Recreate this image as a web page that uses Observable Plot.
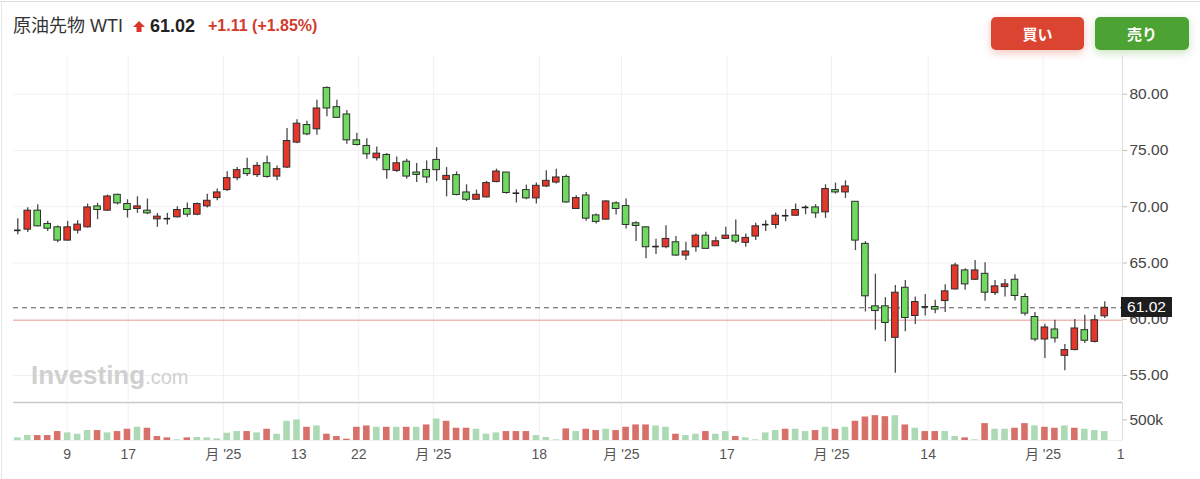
<!DOCTYPE html>
<html>
<head>
<meta charset="utf-8">
<script src="https://cdn.jsdelivr.net/npm/d3@7"></script>
<script src="https://cdn.jsdelivr.net/npm/@observablehq/plot@0.6"></script>
<style>
  html, body { margin: 0; padding: 0; background: #fff; }
  #root { position: relative; width: 1200px; height: 479px; overflow: hidden; background: #fff;
          font-family: "Liberation Sans", Arial, "Noto Sans CJK JP", sans-serif; }
  #root .border-top { position: absolute; left: 0; top: 1px; width: 1200px; height: 1px; background: #dcdcdc; }
  #root .border-left { position: absolute; left: 1px; top: 1px; width: 1px; height: 479px; background: #e6e6e6; }
  .abs { position: absolute; white-space: nowrap; }
  .btn { position: absolute; top: 17px; height: 33px; border-radius: 5px; color: #fff; font-weight: bold;
         font-size: 15px; display: flex; align-items: center; justify-content: center;
         font-family: "Noto Sans CJK JP", sans-serif; }
  #price, #volume { position: absolute; left: 0; }
  #price { top: 55px; }
  #volume { top: 400px; }
  #lastbox { position: absolute; left: 1121px; width: 51px; height: 20px; background: #1e1e1e; color: #fff;
             font-size: 15.5px; display: flex; align-items: center; justify-content: center; }
</style>
</head>
<body>
<div id="root">
  <div class="border-top"></div>
  <div class="border-left"></div>
  <div class="abs" id="title" style="left:13px; top:17px; font-size:18px; color:#333; line-height:18px;"></div>
  <svg class="abs" style="left:133px; top:21px;" width="12" height="11" viewBox="0 0 12 11">
    <polygon points="6,0 12,6 8.5,6 8.5,11 3.5,11 3.5,6 0,6" fill="#d9332a"/>
  </svg>
  <div class="abs" id="last" style="left:150px; top:17px; font-size:18px; font-weight:bold; color:#222; line-height:18px;"></div>
  <div class="abs" id="chg" style="left:208px; top:18px; font-size:16px; font-weight:bold; color:#d23b2d; line-height:16px;"></div>
  <div class="btn" style="left:991px; width:93px; background:#da4431; box-shadow:0 3px 8px rgba(218,68,49,0.3);">買い</div>
  <div class="btn" style="left:1095px; width:94px; background:#4ca334; box-shadow:0 3px 8px rgba(76,163,52,0.3);">売り</div>
  <div id="price"></div>
  <div id="volume"></div>
  <div class="abs" style="left:31px; top:360px; color:#d0d0d0; line-height:30px;">
    <span style="font-size:26px; font-weight:bold;">Investing</span><span style="font-size:20px;">.com</span>
  </div>
  <div id="lastbox"></div>
</div>
<script>
// ---- data ----
const instrument = "原油先物 WTI";
const changeText = "+1.11 (+1.85%)";

const open = [67.90,67.96,69.65,68.47,68.17,66.99,67.88,68.17,70.03,69.65,
  71.06,70.24,69.80,69.65,68.88,68.94,69.06,69.80,69.29,70.03,
  70.77,71.48,72.54,73.34,72.81,73.86,72.68,73.48,75.70,77.26,
  76.88,80.56,78.85,78.20,75.90,75.40,74.31,74.60,73.19,74.00,
  73.04,73.27,74.16,72.39,72.81,71.27,70.62,70.83,72.19,73.04,
  71.20,71.48,70.74,71.80,72.15,72.65,69.80,71.00,69.23,68.85,
  70.30,70.06,68.53,68.17,66.46,66.40,66.84,65.66,66.40,67.43,
  66.49,67.14,67.43,66.79,67.35,68.41,68.38,69.20,69.20,69.94,
  69.94,69.50,71.48,71.27,70.44,66.70,61.15,61.15,58.35,62.80,
  60.29,61.10,61.09,61.62,62.65,64.34,63.51,64.04,62.33,62.86,
  63.51,61.98,60.20,58.20,59.09,56.75,57.26,59.03,57.99,60.26];
const high = [68.94,69.91,70.18,68.70,68.29,68.70,68.76,70.24,70.30,71.04,
  71.12,70.62,70.88,70.68,69.41,69.41,70.00,70.33,70.33,71.12,
  71.57,73.12,73.48,74.31,73.92,74.49,73.63,76.96,77.73,77.60,
  79.47,80.65,79.47,78.56,76.52,76.04,75.31,74.72,74.42,74.22,
  73.84,74.07,75.25,73.48,73.10,71.95,71.48,72.24,73.34,73.04,
  71.50,71.92,72.10,73.19,73.34,72.83,70.97,71.27,69.35,70.53,
  70.44,70.68,68.67,68.23,67.10,68.32,67.35,66.84,67.58,67.73,
  67.29,68.17,68.82,67.58,68.53,68.76,69.44,69.73,70.24,70.09,
  70.18,71.95,72.10,72.30,70.44,66.90,64.00,61.92,63.01,63.45,
  61.98,62.21,61.68,63.07,64.98,64.48,65.22,65.02,63.45,63.54,
  63.95,62.27,60.59,59.56,59.91,57.76,59.97,60.35,60.35,61.56];
const low = [67.52,67.70,68.20,67.81,66.79,66.95,67.58,68.10,68.85,69.59,
  70.15,69.00,69.41,69.29,68.17,68.38,69.00,69.06,69.20,69.88,
  70.53,71.36,72.30,72.68,72.60,72.54,72.30,73.40,75.60,76.30,
  76.35,77.99,77.85,75.55,75.40,74.22,74.07,72.45,73.04,72.45,
  72.15,72.06,72.25,70.88,70.97,70.47,70.60,70.77,72.13,71.12,
  70.33,70.62,70.24,71.71,72.01,70.30,69.80,68.70,68.47,68.85,
  69.27,68.03,66.90,65.37,65.75,66.26,65.60,65.22,65.96,66.20,
  66.46,67.08,66.70,66.40,67.00,67.81,68.03,68.67,69.15,69.29,
  68.97,68.97,71.12,70.74,66.10,60.65,59.03,57.99,55.20,58.88,
  59.53,60.29,60.50,60.59,62.60,62.57,63.45,61.59,62.12,61.98,
  61.62,60.29,57.99,56.52,57.90,55.42,57.20,57.85,57.90,60.06];
const close = [67.90,69.65,68.26,68.05,66.99,68.17,68.41,69.94,69.71,70.91,
  70.30,69.71,70.03,69.41,69.12,68.94,69.71,69.29,70.24,70.53,
  71.27,72.54,73.25,72.90,73.63,72.65,73.34,75.84,77.38,76.43,
  78.73,78.73,77.90,75.90,75.49,74.66,74.72,73.25,73.86,72.68,
  72.83,72.60,73.25,72.74,71.04,70.62,71.06,72.10,73.13,71.22,
  71.20,70.74,71.86,72.30,72.60,70.38,70.77,68.94,68.65,70.47,
  69.80,68.38,68.29,66.40,66.46,67.14,65.66,66.02,67.43,66.26,
  66.93,67.43,66.90,67.23,68.26,68.41,69.20,69.20,69.71,69.94,
  69.41,71.57,71.27,71.80,66.99,62.04,60.73,59.67,62.36,60.11,
  61.53,61.10,60.86,62.48,64.78,63.10,64.34,62.36,62.92,63.10,
  62.07,60.50,58.20,59.27,58.30,57.26,59.18,58.09,59.91,61.02];
// volume in thousands of contracts
const volume = [64,120,120,120,216,184,152,240,240,184,
  216,272,320,296,96,64,16,64,72,64,
  40,176,216,216,184,272,152,464,496,320,
  352,152,96,32,320,352,320,320,320,320,
  320,376,520,464,296,296,272,152,184,216,
  216,216,120,72,16,280,216,272,240,272,
  240,320,376,376,352,320,152,120,152,216,
  152,216,96,64,16,184,240,272,272,216,
  240,320,272,320,464,568,600,576,600,376,
  296,216,216,216,96,64,16,408,272,272,
  296,408,352,320,296,352,296,272,240,216];
const volumeColor = ("ggrrrgggrgrrgrrrgrgggggrgrgggrgrrrrrgrgrgrgrrrgggrrrggg" +
                     "rgrrgrrrrggrggrggrggggrggrgrgrrrrgrgrrggrgrggrrgrrgrggg").split("");
const priceTicks = [55, 60, 65, 70, 75, 80];
const volumeTicks = [500];
const xTickPos = [5.95, 12.07, 21.61, 29.17, 35.19, 42.67, 53.30, 61.53, 72.13, 82.60, 92.29, 103.81, 111.6];
const xTickLabels = ["9", "17", "月 '25", "13", "22", "月 '25", "18", "月 '25", "17", "月 '25", "14", "月 '25", "1"];

// ---- derived tables ----
const candles = open.map((o, k) => ({
  i: k + 1, open: o, high: high[k], low: low[k], close: close[k], up: close[k] >= o
}));
const doji = candles.filter(d => Math.abs(d.close - d.open) < 0.03);
const vols = volume.map((v, k) => ({i: k + 1, v, c: volumeColor[k]}));
const xTicks = xTickPos.map((p, k) => ({pos: p, label: xTickLabels[k]}));
const lastClose = close[close.length - 1];
const prevClose = close[close.length - 2];

const xDomain = [0.57, 111.78];
const half = 0.33;
const gridColor = "#f0f0f0";
const axisFont = "15.5px";

document.getElementById("title").textContent = instrument;
document.getElementById("last").textContent = lastClose.toFixed(2);
document.getElementById("chg").textContent = changeText;

const priceChart = Plot.plot({
  width: 1200, height: 345,
  marginLeft: 13, marginRight: 78, marginTop: 0, marginBottom: 0,
  style: {background: "transparent", fontFamily: "'Liberation Sans', Arial, sans-serif", overflow: "visible"},
  x: {domain: xDomain, axis: null},
  y: {domain: [52.78, 83.44], axis: null},
  marks: [
    Plot.ruleY(priceTicks, {stroke: gridColor}),
    Plot.ruleX(xTickPos.slice(0, -1), {stroke: gridColor}),
    Plot.ruleY([prevClose], {stroke: "#f2a49c", strokeWidth: 1}),
    Plot.ruleY([lastClose], {stroke: "#555", strokeDasharray: "5,4", strokeWidth: 1}),
    Plot.ruleX([xDomain[1]], {stroke: "#dcdcdc"}),
    Plot.axisY(priceTicks, {anchor: "right", label: null, tickFormat: d => d.toFixed(2), tickSize: 4, tickPadding: 3,
      stroke: "#bbb", color: "#444", fontSize: axisFont}),
    Plot.ruleX(candles, {x: "i", y1: "low", y2: "high", stroke: "#4a4a4a", strokeWidth: 1.3}),
    Plot.rect(candles, {x1: d => d.i - half, x2: d => d.i + half, y1: "open", y2: "close",
      fill: d => d.up ? "#e4372b" : "#6fd960", stroke: "#2e2e2e", strokeWidth: 1}),
    Plot.ruleY(doji, {y: "close", x1: d => d.i - half, x2: d => d.i + half, stroke: "#222", strokeWidth: 1.6})
  ]
});
document.getElementById("price").appendChild(priceChart);

const volumeChart = Plot.plot({
  width: 1200, height: 79,
  marginLeft: 13, marginRight: 78, marginTop: 2, marginBottom: 39,
  style: {background: "transparent", fontFamily: "'Liberation Sans', Arial, sans-serif", overflow: "visible"},
  x: {domain: xDomain, axis: null},
  y: {domain: [0, 918], axis: null},
  marks: [
    Plot.ruleX(xTickPos.slice(0, -1), {stroke: gridColor}),
    Plot.rect(vols, {x1: d => d.i - half, x2: d => d.i + half, y1: 0, y2: "v",
      fill: d => d.c === "r" ? "#d8706a" : "#acdab4"}),
    Plot.ruleY([0], {stroke: "#eeeeee"}),
    Plot.ruleY([918], {stroke: "#c9c9c9", strokeWidth: 1.5}),
    Plot.ruleX([xDomain[1]], {stroke: "#dcdcdc"}),
    Plot.axisY(volumeTicks, {anchor: "right", label: null, tickFormat: d => d + "k", tickSize: 4, tickPadding: 3,
      stroke: "#bbb", color: "#444", fontSize: axisFont}),
    Plot.text(xTicks, {x: "pos", text: "label", frameAnchor: "bottom", dy: 18, fontSize: 14, fill: "#555",
      fontFamily: "'Liberation Sans', 'Noto Sans CJK JP', sans-serif"})
  ]
});
document.getElementById("volume").appendChild(volumeChart);

const yLast = priceChart.scale("y").apply(lastClose) + 55;
const box = document.getElementById("lastbox");
box.textContent = lastClose.toFixed(2);
box.style.top = (yLast - 10) + "px";
</script>
</body>
</html>
